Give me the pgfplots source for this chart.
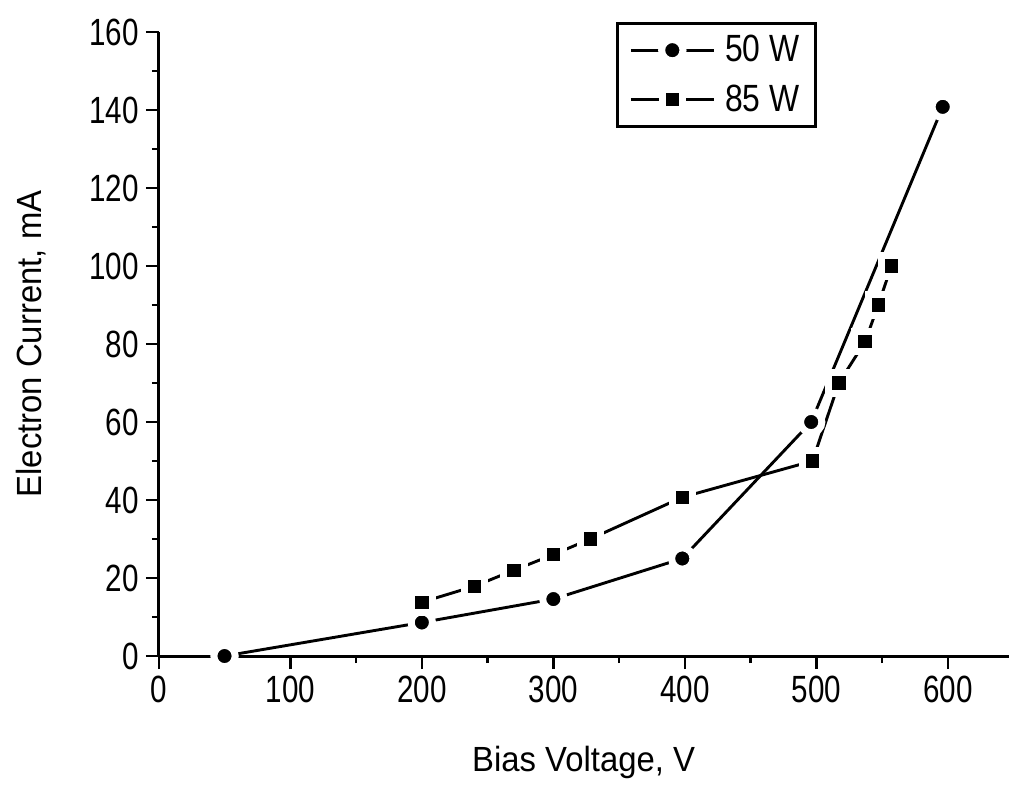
\documentclass[border=0pt]{standalone}
\usepackage{fontspec}
\setmainfont{Liberation Sans}[FakeStretch=0.94]
\newfontfamily\narrowfont{Liberation Sans}[FakeStretch=0.78]
\newfontfamily\legfont{Liberation Sans}[FakeStretch=0.84]
\usepackage{pgfplots}
\pgfplotsset{compat=1.18}
\newcommand{\lblfont}{\fontsize{17.5}{21}\selectfont}
\newcommand{\tickfont}{\narrowfont\fontsize{19}{22}\selectfont}
\begin{document}
\begin{tikzpicture}
\begin{axis}[
  at={(0,0)}, anchor=south west,
  scale only axis, width=425.5pt, height=312.5pt,
  xmin=0, xmax=646, ymin=0, ymax=160,
  axis x line*=bottom, axis y line*=left,
  axis line style={line width=1.5pt},
  xtick={0,100,...,600}, ytick={0,20,...,160},
  minor x tick num=1, minor y tick num=1,
  tick align=outside,
  major tick length=6.5pt, minor tick length=3.5pt,
  tick style={line width=1.25pt, black},
  xlabel={Bias Voltage, V}, ylabel={Electron Current, mA},
  label style={font=\lblfont},
  xlabel style={at={(axis description cs:0.5,-0.1856)}, anchor=base},
  ylabel style={at={(axis description cs:-0.1375,0.5)}, anchor=base},
  tick label style={font=\tickfont},
  /pgf/number format/assume math mode=true,
  axis on top, clip=false,
  legend style={at={(0.538,1.016)}, anchor=north west, draw=black,
    line width=1.5pt, font=\legfont\fontsize{19}{22}\selectfont,
    row sep=6pt, inner xsep=6pt, inner ysep=4pt},
  legend cell align=left,
  legend image code/.code={\draw[mark repeat=2,mark phase=2]
    plot coordinates {(0cm,0cm)(0.73cm,0cm)(1.46cm,0cm)};},
]
\addplot[black, line width=1.45pt, mark=*, mark size=5.35pt,
  mark options={fill=black, draw=white, line width=3.5pt}]
  coordinates {(50,0) (200,8.6) (300,14.6) (398,25) (496,60) (596,140.8)};
\addlegendentry{\hspace{3pt}50 W}
\addplot[black, line width=1.45pt, mark=square*, mark size=5.1pt,
  mark options={fill=black, draw=white, line width=3.5pt}]
  coordinates {(200,13.8) (240,17.9) (270,22) (300,26) (328,30) (398,40.7)
    (497,50) (517,70) (537,80.6) (547,90) (557,100)};
\addlegendentry{\hspace{3pt}85 W}
\end{axis}
\useasboundingbox (-79.5pt,-66pt) rectangle (425.5pt,328.5pt);
\end{tikzpicture}
\end{document}
